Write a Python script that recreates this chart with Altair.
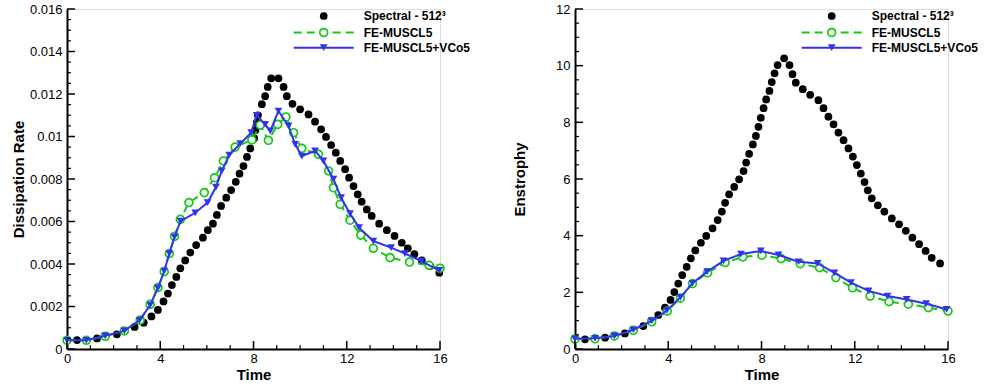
import altair as alt
import pandas as pd

FONT = "Liberation Sans"
GREEN = "#14c814"
BLUE = "#3232f0"

legend_labels = ["Spectral - 512³", "FE-MUSCL5", "FE-MUSCL5+VCo5"]
x_title = "Time"
y_titles = ["Dissipation Rate", "Enstrophy"]

x_major = [0, 4, 8, 12, 16]
x_minor = [1, 2, 3, 5, 6, 7, 9, 10, 11, 13, 14, 15]
diss_major = [0, 0.002, 0.004, 0.006, 0.008, 0.010, 0.012, 0.014, 0.016]
diss_minor = [0.0005, 0.001, 0.0015, 0.0025, 0.003, 0.0035, 0.0045, 0.005, 0.0055,
              0.0065, 0.007, 0.0075, 0.0085, 0.009, 0.0095, 0.0105, 0.011, 0.0115,
              0.0125, 0.013, 0.0135, 0.0145, 0.015, 0.0155]
ens_major = [0, 2, 4, 6, 8, 10, 12]
ens_minor = [0.5, 1, 1.5, 2.5, 3, 3.5, 4.5, 5, 5.5, 6.5, 7, 7.5, 8.5, 9, 9.5,
             10.5, 11, 11.5]

# ---- Dissipation rate ----
spec_diss_t = [0, 0.43, 1.29, 2.14, 2.9, 3.29, 3.62, 3.9, 4.14, 4.33, 4.5, 4.69, 4.86,
               5.07, 5.29, 5.54, 5.83, 6.04, 6.26, 6.43, 6.61, 6.83, 7.04, 7.24, 7.4,
               7.57, 7.72, 7.86, 8.03, 8.08, 8.14, 8.19, 8.36, 8.5, 8.61, 8.76, 9.07,
               9.29, 9.43, 9.67, 10.0, 10.36, 10.64, 10.9, 11.11, 11.33, 11.53, 11.72,
               11.93, 12.1, 12.29, 12.47, 12.64, 12.86, 13.07, 13.39, 13.72, 14.05,
               14.36, 14.62, 14.9, 15.22, 15.57, 15.97]
spec_diss_v = [0.00041, 0.00042, 0.0005, 0.00069, 0.00104, 0.00124, 0.00153, 0.00184,
               0.00224, 0.00261, 0.00301, 0.00339, 0.0038, 0.00417, 0.00454, 0.00489,
               0.00524, 0.00559, 0.0059, 0.00631, 0.00673, 0.00712, 0.00748, 0.00787,
               0.00825, 0.00861, 0.00904, 0.00944, 0.00992, 0.0103, 0.01065, 0.0110,
               0.01152, 0.0119, 0.01233, 0.01274, 0.01274, 0.01233, 0.0119, 0.01154,
               0.01128, 0.01104, 0.0107, 0.01034, 0.00998, 0.0096, 0.00924, 0.00885,
               0.00846, 0.00806, 0.00767, 0.00728, 0.00693, 0.00657, 0.00626, 0.0059,
               0.00559, 0.00532, 0.005, 0.00474, 0.00446, 0.00417, 0.00391, 0.00359]

fe_diss_t = [0, 0.83, 1.64, 2.46, 3.14, 3.57, 3.9, 4.17, 4.39, 4.61, 4.86, 5.23, 5.89,
             6.33, 6.71, 7.21, 7.93, 8.29, 8.64, 9.04, 9.39, 9.72, 10.07, 10.79, 11.22,
             11.43, 11.72, 12.14, 12.6, 13.14, 13.86, 14.69, 15.53, 16.0]
fe_diss_v = [0.00041, 0.00041, 0.0006, 0.00085, 0.00136, 0.0021, 0.00289, 0.00364,
             0.00449, 0.0053, 0.0061, 0.00689, 0.00736, 0.00806, 0.00885, 0.0095,
             0.00984, 0.01054, 0.00982, 0.01057, 0.01092, 0.01018, 0.00944, 0.00916,
             0.00838, 0.00759, 0.00681, 0.00606, 0.00536, 0.00474, 0.0043, 0.00409,
             0.00394, 0.0038]

vc_diss_t = [0, 0.83, 1.64, 2.46, 3.11, 3.57, 3.9, 4.17, 4.39, 4.61, 4.87, 5.5, 6.03,
             6.39, 6.64, 6.96, 7.43, 7.9, 8.14, 8.5, 8.72, 9.07, 9.5, 9.79, 10.07, 10.64,
             11.0, 11.43, 11.76, 12.14, 12.53, 13.14, 13.9, 14.5, 15.19, 15.97]
vc_diss_v = [0.00041, 0.00041, 0.00062, 0.00085, 0.00135, 0.00207, 0.00286, 0.00367,
             0.00449, 0.00527, 0.00602, 0.00641, 0.00689, 0.00762, 0.00838, 0.00913,
             0.00966, 0.01018, 0.0110, 0.01057, 0.01026, 0.0112, 0.0105, 0.00963,
             0.00908, 0.00932, 0.00885, 0.00799, 0.00712, 0.00637, 0.00571, 0.00508,
             0.00477, 0.00449, 0.00414, 0.0037]

# ---- Enstrophy ----
spec_ens_t = [0, 0.43, 1.29, 2.14, 2.93, 3.27, 3.57, 3.86, 4.1, 4.26, 4.43, 4.6, 4.79,
              4.97, 5.16, 5.4, 5.63, 5.9, 6.12, 6.3, 6.44, 6.61, 6.83, 7.04, 7.23, 7.34,
              7.47, 7.63, 7.76, 7.87, 7.97, 8.09, 8.2, 8.34, 8.44, 8.56, 8.69, 8.97,
              9.2, 9.33, 9.47, 9.77, 10.09, 10.44, 10.66, 10.87, 11.09, 11.3, 11.52,
              11.73, 11.92, 12.09, 12.26, 12.42, 12.56, 12.73, 12.99, 13.27, 13.59,
              13.9, 14.19, 14.47, 14.76, 15.04, 15.3, 15.66]
spec_ens_v = [0.36, 0.34, 0.4, 0.55, 0.81, 1.0, 1.2, 1.46, 1.73, 2.01, 2.31, 2.61, 2.9,
              3.2, 3.48, 3.75, 3.99, 4.26, 4.55, 4.85, 5.16, 5.46, 5.72, 5.99, 6.28,
              6.58, 6.89, 7.22, 7.52, 7.84, 8.16, 8.5, 8.81, 9.11, 9.42, 9.73, 10.02,
              10.26, 10.02, 9.7, 9.4, 9.17, 8.97, 8.78, 8.5, 8.2, 7.93, 7.64, 7.37,
              7.08, 6.79, 6.49, 6.19, 5.89, 5.6, 5.32, 5.07, 4.85, 4.61, 4.4, 4.17,
              3.93, 3.7, 3.46, 3.22, 3.02]

fe_ens_t = [0, 0.86, 1.69, 2.5, 3.29, 3.96, 4.52, 5.04, 5.69, 6.44, 7.2, 8.02, 8.84,
            9.66, 10.49, 11.19, 11.9, 12.66, 13.47, 14.3, 15.16, 16.0]
fe_ens_v = [0.35, 0.36, 0.46, 0.66, 0.96, 1.34, 1.8, 2.31, 2.69, 3.05, 3.25, 3.31, 3.19,
            3.01, 2.87, 2.52, 2.16, 1.87, 1.67, 1.58, 1.46, 1.34]

vc_ens_t = [0, 0.86, 1.69, 2.5, 3.29, 3.94, 4.52, 5.04, 5.67, 6.37, 7.12, 7.97, 8.73,
            9.59, 10.41, 11.13, 11.84, 12.59, 13.41, 14.23, 15.06, 15.94]
vc_ens_v = [0.36, 0.38, 0.46, 0.68, 0.99, 1.36, 1.82, 2.32, 2.73, 3.11, 3.35, 3.46, 3.32,
            3.08, 3.02, 2.69, 2.34, 2.05, 1.87, 1.75, 1.6, 1.4]

W, H = 373, 340


def panel(st, sv, ft, fv, vt, vv, ymax, ymajor, yminor, ytitle, yfmt, title_x):
    xs = alt.Scale(domain=[0, 16], nice=False, zero=False)
    ys = alt.Scale(domain=[0, ymax], nice=False, zero=False)
    xax = alt.Axis(values=x_major, ticks=False, grid=False, title=x_title, format="d",
                   labelFontSize=13, titleFontSize=15, titleFontWeight="bold",
                   labelPadding=3, titlePadding=2, domainWidth=2, domainColor="black",
                   labelColor="black", titleColor="black", labelFont=FONT,
                   titleFont=FONT, labelFlush=False, labelOverlap=False)
    yax = alt.Axis(values=ymajor, ticks=False, grid=False, title=ytitle, format=yfmt,
                   labelFontSize=13, titleFontSize=15, titleFontWeight="bold",
                   labelPadding=5, domainWidth=2, domainColor="black",
                   labelColor="black", titleColor="black", labelFont=FONT,
                   titleFont=FONT, labelOverlap=False, titleX=title_x,
                   titleBaseline="alphabetic")

    def X():
        return alt.X("t:Q", scale=xs, axis=xax)

    def Y():
        return alt.Y("v:Q", scale=ys, axis=yax)

    spec = alt.Chart(pd.DataFrame({"t": st, "v": sv})).mark_circle(
        size=60, color="black", opacity=1).encode(x=X(), y=Y())
    fe_df = pd.DataFrame({"t": ft, "v": fv})
    fe_line = alt.Chart(fe_df).mark_line(color=GREEN, strokeWidth=2,
                                         strokeDash=[8, 5]).encode(x=X(), y=Y())
    fe_pts = alt.Chart(fe_df).mark_point(shape="circle", size=62, filled=True,
                                         fill="white", stroke=GREEN, strokeWidth=1.7,
                                         opacity=1).encode(x=X(), y=Y())
    vc_df = pd.DataFrame({"t": vt, "v": vv})
    vc_line = alt.Chart(vc_df).mark_line(color=BLUE, strokeWidth=2).encode(x=X(), y=Y())
    vc_pts = alt.Chart(vc_df).mark_point(shape="triangle-down", size=60, filled=True,
                                         color=BLUE, opacity=1).encode(x=X(), y=Y())

    xt_major = alt.Chart(pd.DataFrame({"t": x_major})).mark_rule(
        color="black", strokeWidth=1.5).encode(x=X(), y=alt.value(H), y2=alt.value(H - 8))
    xt_minor = alt.Chart(pd.DataFrame({"t": x_minor})).mark_rule(
        color="black", strokeWidth=1.2).encode(x=X(), y=alt.value(H), y2=alt.value(H - 4))
    yt_major = alt.Chart(pd.DataFrame({"v": ymajor})).mark_rule(
        color="black", strokeWidth=1.5).encode(y=Y(), x=alt.value(0), x2=alt.value(8))
    yt_minor = alt.Chart(pd.DataFrame({"v": yminor})).mark_rule(
        color="black", strokeWidth=1.2).encode(y=Y(), x=alt.value(0), x2=alt.value(4))

    # legend (pixel layout inside the plot area)
    lx0, lx1, lxs, ltx = 226.7, 286.7, 256.7, 296.7
    rows = [7, 23.5, 38.7]
    leg = []
    leg.append(alt.Chart(pd.DataFrame({"a": [0]})).mark_circle(
        size=60, color="black", opacity=1).encode(x=alt.value(lxs), y=alt.value(rows[0])))
    leg.append(alt.Chart(pd.DataFrame({"a": [0]})).mark_rule(
        color=GREEN, strokeWidth=2, strokeDash=[8, 5]).encode(
        x=alt.value(lx0), x2=alt.value(lx1), y=alt.value(rows[1])))
    leg.append(alt.Chart(pd.DataFrame({"a": [0]})).mark_point(
        shape="circle", size=62, filled=True, fill="white", stroke=GREEN,
        strokeWidth=1.7, opacity=1).encode(x=alt.value(lxs), y=alt.value(rows[1])))
    leg.append(alt.Chart(pd.DataFrame({"a": [0]})).mark_rule(
        color=BLUE, strokeWidth=2).encode(
        x=alt.value(lx0), x2=alt.value(lx1), y=alt.value(rows[2])))
    leg.append(alt.Chart(pd.DataFrame({"a": [0]})).mark_point(
        shape="triangle-down", size=60, filled=True, color=BLUE, opacity=1).encode(
        x=alt.value(lxs), y=alt.value(rows[2])))
    for i, lab in enumerate(legend_labels):
        leg.append(alt.Chart(pd.DataFrame({"lab": [lab]})).mark_text(
            align="left", baseline="middle", font=FONT, fontSize=12,
            fontWeight="bold", color="black").encode(
            text="lab:N", x=alt.value(ltx), y=alt.value(rows[i])))

    return alt.layer(spec, fe_line, fe_pts, vc_line, vc_pts,
                     xt_major, xt_minor, yt_major, yt_minor, *leg).properties(
        width=W, height=H)


left = panel(spec_diss_t, spec_diss_v, fe_diss_t, fe_diss_v, vc_diss_t, vc_diss_v,
             0.016, diss_major, diss_minor, y_titles[0], ".3~f", -44)
right = panel(spec_ens_t, spec_ens_v, fe_ens_t, fe_ens_v, vc_ens_t, vc_ens_v,
              12, ens_major, ens_minor, y_titles[1], "d", -51)

chart = alt.hconcat(left, right, spacing=135, bounds="flush").properties(
    padding={"left": 10, "top": 2, "right": 0, "bottom": 0}
).configure_view(stroke=None).configure(font=FONT)

chart.save("out.html", embed_options={"renderer": "svg", "actions": False})
